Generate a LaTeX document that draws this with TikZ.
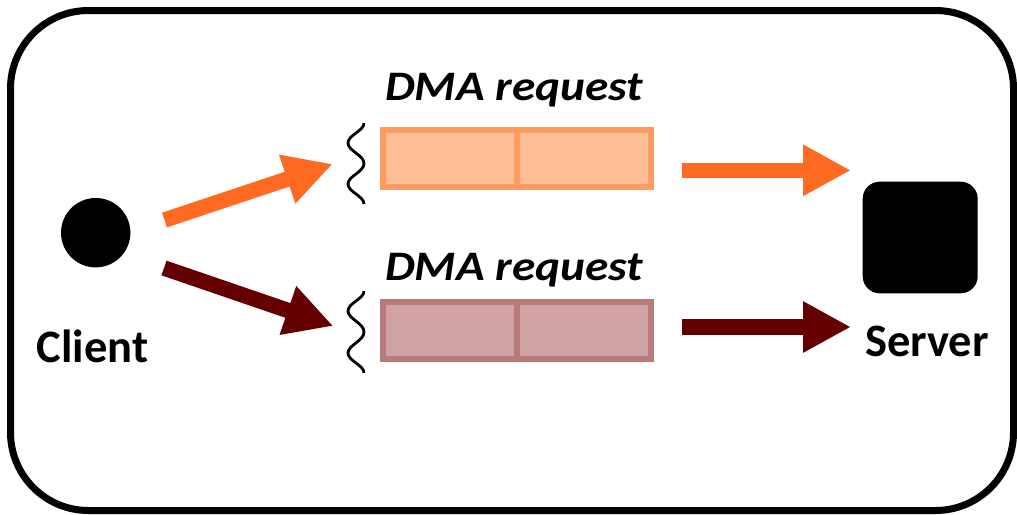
\documentclass[tikz,border=0pt]{standalone}
\usepackage{fontspec}
\setmainfont{Carlito}
\usetikzlibrary{arrows.meta}
\definecolor{reqorange}{HTML}{FF6A23}
\definecolor{reqorangefill}{HTML}{FEBF96}
\definecolor{reqorangeline}{HTML}{FF9B5E}
\definecolor{reqdark}{HTML}{640000}
\definecolor{reqdarkfill}{HTML}{CFA3A3}
\definecolor{reqdarkline}{HTML}{BA7A7A}
\begin{document}
\begin{tikzpicture}[x=1pt,y=-1pt,
  fatarrow/.style={line width=15.5pt,-{Triangle[length=48pt,width=48pt]}},
  slot/.style={rectangle,inner sep=0pt,minimum width=134pt,minimum height=57pt,line width=6pt},
  orangeslot/.style={slot,draw=reqorangeline,fill=reqorangefill},
  darkslot/.style={slot,draw=reqdarkline,fill=reqdarkfill},
  label/.style={inner sep=0pt,anchor=base,font=\fontsize{46.5}{56}\selectfont\bfseries},
  reqlabel/.style={inner sep=0pt,anchor=base,xscale=1.125,transform shape,font=\fontsize{42}{50}\selectfont\bfseries\itshape},
  wave/.style={line width=2.8pt,black}]
\useasboundingbox (0,0) rectangle (1017,514);

% outer frame
\draw[line width=7pt,rounded corners=78pt] (10.5,10.5) rectangle (1013.5,510.5);

% endpoints
\node[circle,fill=black,inner sep=0pt,minimum size=69.4pt] (client) at (95.7,232.7) {};
\node[rectangle,fill=black,rounded corners=17pt,inner sep=0pt,minimum width=115pt,minimum height=111.6pt] (server) at (920.2,237.5) {};
\node[label] (clientlbl) at (92.5,362.7) {Client};
\node[label] (serverlbl) at (927,356.7) {Server};

% request buffers
\node[orangeslot] (topa) at (450,158.5) {};
\node[orangeslot] (topb) at (584,158.5) {};
\node[darkslot] (bota) at (450,330.5) {};
\node[darkslot] (botb) at (584,330.5) {};
\node[reqlabel] (toplbl) at (514,100.5) {DMA request};
\node[reqlabel] (botlbl) at (514,280.5) {DMA request};

% wavy edges in front of the buffers
\draw[wave] (364,123) .. controls (364,131) and (348,135) .. (348,143)
  .. controls (348,151) and (364,155) .. (364,163.5)
  .. controls (364,172) and (348,176) .. (348,184)
  .. controls (348,192) and (364,196) .. (364,204);
\draw[wave] (364,291) .. controls (364,299) and (348,303) .. (348,311)
  .. controls (348,319) and (364,323) .. (364,332)
  .. controls (364,341) and (348,345) .. (348,353)
  .. controls (348,361) and (364,365) .. (364,373);

% arrow end points
\coordinate (o1s) at (164.5,220);
\coordinate (o1e) at (332.7,164);
\coordinate (d1s) at (164,268);
\coordinate (d1e) at (333.3,326);
\coordinate (o2s) at (681.7,170.3);
\coordinate (o2e) at (851,170.3);
\coordinate (d2s) at (681.7,327);
\coordinate (d2e) at (851,327);

\draw[fatarrow,reqorange] (o1s) -- (o1e);
\draw[fatarrow,reqdark] (d1s) -- (d1e);
\draw[fatarrow,reqorange] (o2s) -- (o2e);
\draw[fatarrow,reqdark] (d2s) -- (d2e);
\end{tikzpicture}
\end{document}
